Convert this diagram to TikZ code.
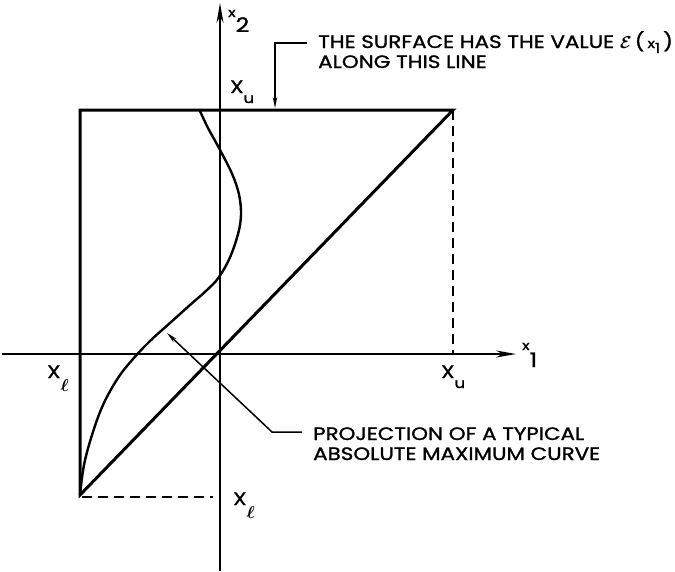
\documentclass[tikz,border=0pt]{standalone}
\usepackage{amsmath}
\usepackage{fontspec}
\setmainfont{Poppins}[FakeStretch=1.19, FakeBold=1.3]
\usetikzlibrary{arrows.meta}
\tikzset{
  frameline/.style={line width=3pt, line cap=round, line join=miter},
  axisline/.style={line width=1.5pt, -{Stealth[length=20pt,width=7pt]}},
  curveline/.style={line width=2.4pt, line cap=round},
  dashline/.style={line width=1.5pt, dash pattern=on 10pt off 6pt},
  leader/.style={line width=1.5pt, -{Stealth[length=11pt,width=4.5pt]}},
  lab/.style={inner sep=0pt, anchor=base west, font=\fontsize{18}{20}\selectfont},
}
\newcommand\smallx{{\fontsize{13}{13}\selectfont x}}
\newcommand\subu{\raisebox{-10pt}{\fontsize{14}{14}\selectfont u}}
\newcommand\subl{\raisebox{-13pt}{\fontsize{17}{17}\selectfont$\boldsymbol{\ell}$}}
\begin{document}
\begin{tikzpicture}[x=1pt,y=-1pt]
\useasboundingbox (0,0) rectangle (675,571);
% key points
\coordinate (O) at (220,354);
\coordinate (BL) at (80,495);
\coordinate (TL) at (80,110);
\coordinate (TR) at (453,110);
\coordinate (XU) at (453,354);
\coordinate (DB) at (213,497);
\coordinate (BLd) at (82,497);
\coordinate (AxB) at (220,571);
\coordinate (AxT) at (220,3);
\coordinate (AxL) at (2,354);
\coordinate (AxR) at (516,354);
% axes
\draw[axisline] (AxB) -- (AxT);
\draw[axisline] (AxL) -- (AxR);
% square frame and diagonal
\draw[frameline] (BL) -- (TL) -- (TR) -- cycle;
% dashed
\draw[dashline] (TR) -- (XU);
\draw[dashline] (BLd) -- (DB);
% curve
\draw[curveline] plot[smooth, tension=0.6] coordinates {
 (80,495) (84,465) (92,435) (103,405) (118,378) (133,359) (150,341)
 (170,323) (190,305) (207,290) (219,277) (231,255) (240,225) (240,200)
 (233,176) (219,148) (208,128) (200,111)};
% axis labels
\node[lab] (lx2) at (228,17) {\smallx\raisebox{-15pt}{\fontsize{20}{20}\selectfont 2}};
\node[lab] (lx1) at (522,350) {\smallx\raisebox{-17pt}{\fontsize{20}{20}\selectfont 1}};
\node[lab] (lXuT) at (230,93) {X\subu};
\node[lab] (lXuA) at (441,378) {X\subu};
\node[lab] (lXlL) at (47,378) {X\subl};
\node[lab] (lXlB) at (233,505) {X\subl};
% annotation texts
\node[lab] (surf1) at (318,48) {THE SURFACE HAS THE VALUE $\boldsymbol{\mathcal{E}}$\,(\,\smallx\raisebox{-5pt}{\fontsize{14}{14}\selectfont 1}\,)};
\node[lab] (surf2) at (318,68) {ALONG THIS LINE};
\node[lab] (proj1) at (313,440) {PROJECTION OF A TYPICAL};
\node[lab] (proj2) at (313,460) {ABSOLUTE MAXIMUM CURVE};
% leaders
\coordinate (sA) at (307,43);
\coordinate (sB) at (275,108);
\draw[leader] (sA) -| (sB);
\coordinate (pA) at (302,432);
\coordinate (pB) at (272,432);
\coordinate (pC) at (167,333);
\draw[leader] (pA) -- (pB) -- (pC);
\end{tikzpicture}
\end{document}
